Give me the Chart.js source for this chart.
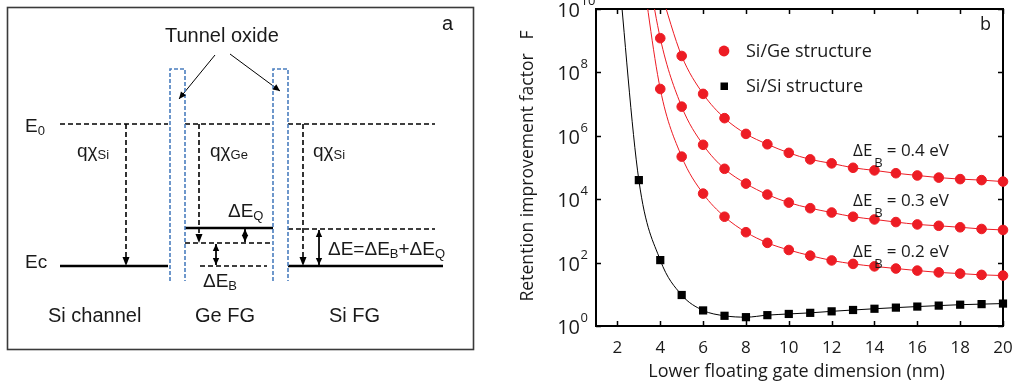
<!DOCTYPE html>
<html>
<head>
<meta charset="utf-8">
<script src="https://cdn.jsdelivr.net/npm/chart.js@4.4.1/dist/chart.umd.min.js"></script>
<style>
  html, body { margin: 0; padding: 0; background: #fff; }
  #wrap { position: relative; width: 1014px; height: 388px; }
  #left { position: absolute; left: 0; top: 0; width: 500px; height: 388px; }
  #right { position: absolute; left: 500px; top: 0; width: 514px; height: 388px; }
</style>
</head>
<body>
<div id="wrap">
  <div id="left"><canvas id="bandChart"></canvas></div>
  <div id="right"><canvas id="retChart"></canvas></div>
</div>
<script>
// ---------- panel b: retention improvement factor vs gate size ----------
const gateSize   = [2, 3, 4, 5, 6, 7, 8, 9, 10, 11, 12, 13, 14, 15, 16, 17, 18, 19, 20];
const siSi       = [4e11, 4e4, 120, 9.5, 3.1, 2.1, 1.9, 2.2, 2.4, 2.6, 2.9, 3.2, 3.5, 3.8, 4.1, 4.4, 4.7, 4.9, 5.1];
const siGe02     = [null, 1e12, 3e7, 2.2e5, 1.5e4, 2.8e3, 910, 420, 250, 166, 117, 91, 76, 65, 56, 49, 45, 41, 39];
const siGe03     = [null, 1e13, 1.2e9, 8.3e6, 5.2e5, 9.1e4, 3.1e4, 1.4e4, 7.8e3, 5.2e3, 3.8e3, 2.8e3, 2.3e3, 1.9e3, 1.6e3, 1.45e3, 1.3e3, 1.15e3, 1.07e3];
const siGe04     = [null, null, 4e10, 3.3e8, 2.1e7, 3.6e6, 1.15e6, 5.4e5, 2.9e5, 1.8e5, 1.35e5, 9.8e4, 8.1e4, 6.6e4, 5.6e4, 4.8e4, 4.3e4, 4e4, 3.6e4];
const xTicks     = [2, 4, 6, 8, 10, 12, 14, 16, 18, 20];
const yExponents = [0, 2, 4, 6, 8, 10];
const barrierLabels = ['0.4', '0.3', '0.2'];
const barrierLabelY = [2.3e5, 5.9e3, 155];
const barrierLabelX = 13;

const RED = '#ed1c24';
const FONT_B = '"Open Sans", Lato, sans-serif';

function toPoints(values) {
  return gateSize.map((x, i) => ({ x: x, y: values[i] })).filter(p => p.y !== null);
}

function geSeries(values) {
  return {
    data: toPoints(values),
    showLine: true,
    borderColor: RED,
    backgroundColor: RED,
    borderWidth: 1,
    pointRadius: 4.8,
    pointBorderWidth: 1,
    pointBorderColor: RED,
    cubicInterpolationMode: 'monotone',
    clip: { left: 10, right: 10, top: 0, bottom: 10 }
  };
}

const panelB = {
  id: 'panelB',
  beforeDatasetsDraw(chart) {
    const { ctx, chartArea: a, scales: { x, y } } = chart;
    ctx.save();
    ctx.strokeStyle = '#000';
    ctx.lineWidth = 2;
    ctx.strokeRect(a.left, a.top, a.right - a.left, a.bottom - a.top);
    ctx.lineWidth = 1.5;
    ctx.beginPath();
    xTicks.forEach(v => {
      const px = Math.round(x.getPixelForValue(v)) + 0.5;
      ctx.moveTo(px, a.bottom); ctx.lineTo(px, a.bottom - 5);
      ctx.moveTo(px, a.top); ctx.lineTo(px, a.top + 5);
    });
    yExponents.forEach(e => {
      const py = Math.round(y.getPixelForValue(Math.pow(10, e))) + 0.5;
      ctx.moveTo(a.left, py); ctx.lineTo(a.left + 5, py);
      ctx.moveTo(a.right, py); ctx.lineTo(a.right - 5, py);
    });
    ctx.stroke();
    ctx.restore();
  },
  afterDatasetsDraw(chart) {
    const { ctx, chartArea: a, scales: { x, y } } = chart;
    ctx.save();
    ctx.fillStyle = '#1a1a1a';
    ctx.textBaseline = 'alphabetic';
    // x tick labels
    ctx.font = '17px ' + FONT_B;
    ctx.textAlign = 'center';
    xTicks.forEach(v => ctx.fillText(String(v), x.getPixelForValue(v), 353));
    // y tick labels 10^n
    yExponents.forEach(e => {
      const py = y.getPixelForValue(Math.pow(10, e));
      ctx.textAlign = 'right';
      ctx.font = '20px ' + FONT_B;
      ctx.fillText('10', 80, py + 8);
      ctx.textAlign = 'left';
      ctx.font = '13px ' + FONT_B;
      ctx.fillText(String(e), 80.5, py - 4);
    });
    // axis titles
    ctx.font = '18px ' + FONT_B;
    ctx.textAlign = 'center';
    ctx.fillText('Lower floating gate dimension (nm)', (a.left + a.right) / 2 - 3, 377);
    ctx.save();
    ctx.translate(33, 166);
    ctx.rotate(-Math.PI / 2);
    ctx.font = '17.6px ' + FONT_B;
    ctx.fillText('Retention improvement factor   F', 0, 0);
    ctx.restore();
    // panel letter
    ctx.textAlign = 'left';
    ctx.font = '18px ' + FONT_B;
    ctx.fillText('b', 480, 30);
    // legend
    ctx.fillStyle = RED;
    ctx.beginPath();
    ctx.arc(224, 51, 5.4, 0, Math.PI * 2);
    ctx.fill();
    ctx.fillStyle = '#000';
    ctx.fillRect(220.5, 82.5, 7.5, 7.5);
    ctx.fillStyle = '#1a1a1a';
    ctx.font = '18px ' + FONT_B;
    ctx.fillText('Si/Ge structure', 246, 57);
    ctx.fillText('Si/Si structure', 246, 92);
    // barrier height labels
    barrierLabels.forEach((lab, i) => {
      const px = x.getPixelForValue(barrierLabelX);
      const py = y.getPixelForValue(barrierLabelY[i]);
      ctx.font = '17px ' + FONT_B;
      ctx.fillText('\u0394E', px, py);
      let cx = px + ctx.measureText('\u0394E').width + 2;
      ctx.font = '13px ' + FONT_B;
      ctx.fillText('B', cx, py + 11);
      cx += ctx.measureText('B').width + 4;
      ctx.font = '17px ' + FONT_B;
      ctx.fillText('= ' + lab + ' eV', cx, py);
    });
    ctx.restore();
  }
};

new Chart(document.getElementById('retChart'), {
  type: 'scatter',
  data: {
    datasets: [
      geSeries(siGe04),
      geSeries(siGe03),
      geSeries(siGe02),
      {
        data: toPoints(siSi),
        showLine: true,
        borderColor: '#000',
        backgroundColor: '#000',
        borderWidth: 1,
        pointStyle: 'rect',
        pointRadius: 5.8,
        pointBorderWidth: 0,
        cubicInterpolationMode: 'monotone',
        clip: { left: 10, right: 10, top: 0, bottom: 10 }
      }
    ]
  },
  options: {
    responsive: true,
    maintainAspectRatio: false,
    animation: false,
    layout: { padding: { top: 9, right: 11, left: 0, bottom: 0 } },
    plugins: { legend: { display: false }, tooltip: { enabled: false } },
    scales: {
      x: {
        type: 'linear', min: 1, max: 20,
        grid: { display: false }, border: { display: false },
        ticks: { display: false },
        afterBuildTicks: s => { s.ticks = xTicks.map(v => ({ value: v })); },
        afterFit: s => { s.height = 62; }
      },
      y: {
        type: 'logarithmic', min: 1, max: 1e10,
        grid: { display: false }, border: { display: false },
        ticks: { display: false },
        afterBuildTicks: s => { s.ticks = yExponents.map(e => ({ value: Math.pow(10, e) })); },
        afterFit: s => { s.width = 96; }
      }
    }
  },
  plugins: [panelB]
});

// ---------- panel a: band diagram (diagram units, y grows downward) ----------
const vacuumLevel = 124;
const siConduction = 266;
const geQuantLevel = 228;
const geConduction = 243;
const oxideTop = 69;
const oxideBottom = 281;
const oxideSpans = [[170, 185], [273, 288]];
const solidLevels = [
  { x: [60, 168], y: siConduction },
  { x: [288, 443], y: siConduction },
  { x: [185, 273], y: geQuantLevel }
];
const dashedLevels = [
  { x: [60, 168], y: vacuumLevel },
  { x: [185, 273], y: vacuumLevel },
  { x: [288, 435], y: vacuumLevel },
  { x: [185, 273], y: geConduction },
  { x: [200, 267], y: siConduction },
  { x: [288, 435], y: geQuantLevel + 1 }
];
const affinityArrows = [
  { x: 126, y: [vacuumLevel, siConduction] },
  { x: 199, y: [vacuumLevel, geConduction] },
  { x: 303, y: [vacuumLevel, siConduction] }
];
const gapArrows = [
  { x: 245, y: [geQuantLevel, geConduction] },
  { x: 216, y: [geConduction, siConduction] },
  { x: 319, y: [geQuantLevel + 1, siConduction] }
];
const oxidePointers = [
  { from: [215, 55], to: [179, 99] },
  { from: [230, 54], to: [280, 91] }
];

const FONT_A = '"Liberation Sans", Arial, sans-serif';
const BLUE = '#4a7ebf';

function seg(points, opts) {
  return Object.assign({
    data: points.map(p => ({ x: p[0], y: p[1] })),
    showLine: true,
    pointRadius: 0,
    borderColor: '#000',
    borderWidth: 1,
    tension: 0,
    clip: false
  }, opts);
}

const bandSets = [];
oxideSpans.forEach(([l, r]) => {
  bandSets.push(seg([[l, oxideBottom], [l, oxideTop], [r, oxideTop], [r, oxideBottom]],
    { borderColor: BLUE, borderWidth: 1.6, borderDash: [4, 2] }));
});
solidLevels.forEach(s => bandSets.push(seg([[s.x[0], s.y], [s.x[1], s.y]], { borderWidth: 2.6 })));
dashedLevels.forEach(s => bandSets.push(seg([[s.x[0], s.y], [s.x[1], s.y]], { borderWidth: 1.6, borderDash: [5, 3] })));
affinityArrows.forEach(a => bandSets.push(seg([[a.x, a.y[0]], [a.x, a.y[1] - 5]], { borderWidth: 1.6, borderDash: [5, 3], arrowHead: 'end' })));
gapArrows.forEach(a => bandSets.push(seg([[a.x, a.y[0] + 1], [a.x, a.y[1] - 1]], { borderWidth: 1, arrowHead: 'both' })));
oxidePointers.forEach(p => bandSets.push(seg([p.from, p.to], { borderWidth: 1, arrowHead: 'end' })));

function head(ctx, tip, from, len, half) {
  const ang = Math.atan2(tip.y - from.y, tip.x - from.x);
  ctx.beginPath();
  ctx.moveTo(tip.x, tip.y);
  ctx.lineTo(tip.x - len * Math.cos(ang) + half * Math.sin(ang), tip.y - len * Math.sin(ang) - half * Math.cos(ang));
  ctx.lineTo(tip.x - len * Math.cos(ang) - half * Math.sin(ang), tip.y - len * Math.sin(ang) + half * Math.cos(ang));
  ctx.closePath();
  ctx.fill();
}

function rich(ctx, x, y, parts) {
  let cx = x;
  parts.forEach(([t, size, dy]) => {
    ctx.font = size + 'px ' + FONT_A;
    ctx.fillText(t, cx, y + (dy || 0));
    cx += ctx.measureText(t).width;
  });
}

const panelA = {
  id: 'panelA',
  beforeDatasetsDraw(chart) {
    const { ctx } = chart;
    ctx.save();
    ctx.strokeStyle = '#3a3a3a';
    ctx.lineWidth = 1.6;
    ctx.strokeRect(7.5, 7.5, 466, 342);
    ctx.restore();
  },
  afterDatasetsDraw(chart) {
    const { ctx } = chart;
    ctx.save();
    ctx.fillStyle = '#000';
    chart.data.datasets.forEach((ds, i) => {
      if (!ds.arrowHead) return;
      const pts = chart.getDatasetMeta(i).data;
      const a = pts[0], b = pts[pts.length - 1];
      if (ds.arrowHead === 'end' && ds.borderDash) {
        head(ctx, { x: b.x, y: b.y + 5 }, a, 9, 3.5);
      } else {
        head(ctx, b, a, 7, 3.2);
        if (ds.arrowHead === 'both') head(ctx, a, b, 7, 3.2);
      }
    });
    ctx.fillStyle = '#1a1a1a';
    ctx.textBaseline = 'alphabetic';
    rich(ctx, 165, 42, [['Tunnel oxide', 20]]);
    rich(ctx, 442, 30, [['a', 20]]);
    rich(ctx, 25, 132, [['E', 19], ['0', 13, 3]]);
    rich(ctx, 25, 268, [['Ec', 19]]);
    rich(ctx, 77, 157, [['q\u03c7', 19], ['Si', 13, 2]]);
    rich(ctx, 210, 157, [['q\u03c7', 19], ['Ge', 13, 2]]);
    rich(ctx, 313, 157, [['q\u03c7', 19], ['Si', 13, 2]]);
    rich(ctx, 228, 217, [['\u0394E', 19], ['Q', 13, 3]]);
    rich(ctx, 203, 287, [['\u0394E', 19], ['B', 13, 3]]);
    rich(ctx, 328, 255, [['\u0394E=\u0394E', 19], ['B', 13, 3], ['+\u0394E', 19], ['Q', 13, 3]]);
    rich(ctx, 48, 322, [['Si channel', 20]]);
    rich(ctx, 195, 322, [['Ge FG', 20]]);
    rich(ctx, 329, 322, [['Si FG', 20]]);
    ctx.restore();
  }
};

new Chart(document.getElementById('bandChart'), {
  type: 'scatter',
  data: { datasets: bandSets },
  options: {
    responsive: true,
    maintainAspectRatio: false,
    animation: false,
    layout: { padding: 0 },
    plugins: { legend: { display: false }, tooltip: { enabled: false } },
    scales: {
      x: { type: 'linear', min: 0, max: 500, display: false },
      y: { type: 'linear', min: 0, max: 388, reverse: true, display: false }
    }
  },
  plugins: [panelA]
});
</script>
</body>
</html>
